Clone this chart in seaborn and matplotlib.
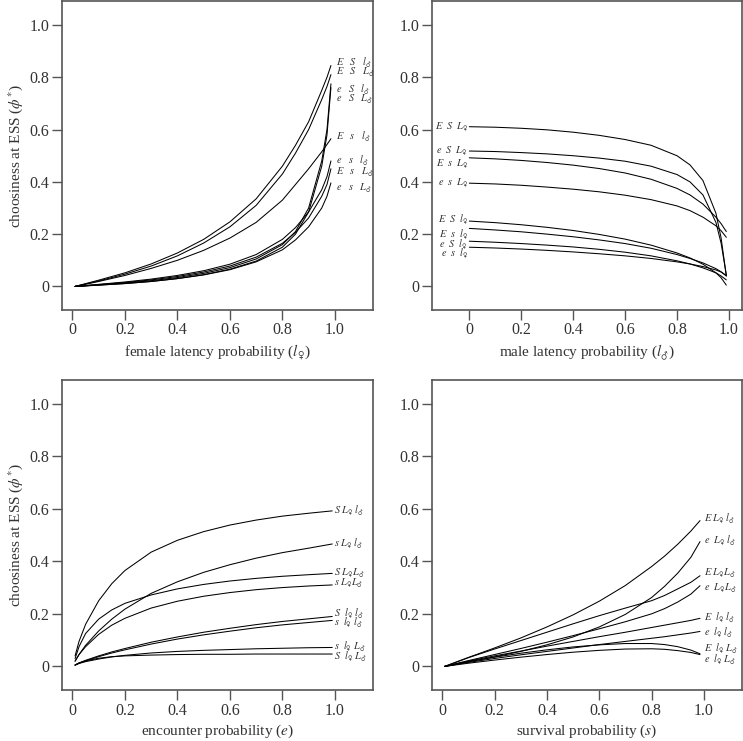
"""
ESS choosiness against four probabilities (four panels).
"""

import matplotlib
matplotlib.use("Agg")
import matplotlib.pyplot as plt
import pandas as pd
import seaborn as sns
from matplotlib.ticker import FuncFormatter

# --- top-left: female latency probability ---
fl_x = [0.01, 0.1, 0.2, 0.3, 0.4, 0.5, 0.6, 0.7, 0.8, 0.85, 0.9, 0.95, 0.97, 0.985]
fl_labels = [r"$E\ \ \ S\ \ \ l_{♂}$", r"$E\ \ \ S\ \ \ L_{♂}$", r"$e\ \ \ S\ \ \ l_{♂}$", r"$e\ \ \ S\ \ \ L_{♂}$",
             r"$E\ \ \ s\ \ \ l_{♂}$", r"$e\ \ \ s\ \ \ l_{♂}$", r"$E\ \ \ s\ \ \ L_{♂}$", r"$e\ \ \ s\ \ \ L_{♂}$"]
fl_values = [
    [0, 0.024, 0.052, 0.086, 0.128, 0.18, 0.247, 0.335, 0.46, 0.54, 0.63, 0.75, 0.80, 0.845],
    [0, 0.021, 0.047, 0.078, 0.117, 0.166, 0.228, 0.31, 0.43, 0.51, 0.6, 0.715, 0.765, 0.81],
    [0, 0.006, 0.013, 0.022, 0.034, 0.05, 0.072, 0.105, 0.16, 0.21, 0.3, 0.48, 0.6, 0.775],
    [0, 0.005, 0.011, 0.019, 0.03, 0.045, 0.066, 0.097, 0.15, 0.2, 0.285, 0.46, 0.58, 0.76],
    [0, 0.019, 0.042, 0.069, 0.1, 0.138, 0.185, 0.245, 0.33, 0.39, 0.45, 0.515, 0.543, 0.565],
    [0, 0.008, 0.017, 0.028, 0.042, 0.06, 0.085, 0.122, 0.18, 0.225, 0.285, 0.37, 0.42, 0.48],
    [0, 0.007, 0.015, 0.025, 0.038, 0.055, 0.078, 0.112, 0.165, 0.207, 0.262, 0.345, 0.39, 0.45],
    [0, 0.005, 0.011, 0.019, 0.03, 0.044, 0.064, 0.094, 0.14, 0.178, 0.228, 0.3, 0.345, 0.396],
]
fl_label_y = [0.858, 0.82, 0.754, 0.716, 0.572, 0.483, 0.438, 0.376]

# --- top-right: male latency probability ---
ml_x = [0.0, 0.1, 0.2, 0.3, 0.4, 0.5, 0.6, 0.7, 0.8, 0.85, 0.9, 0.95, 0.97, 0.99]
ml_labels = [r"$E\ \ S\ \ L_{♀}$", r"$e\ \ S\ \ L_{♀}$", r"$E\ \ s\ \ L_{♀}$", r"$e\ \ s\ \ L_{♀}$",
             r"$E\ \ S\ \ l_{♀}$", r"$E\ \ s\ \ l_{♀}$", r"$e\ \ S\ \ l_{♀}$", r"$e\ \ s\ \ l_{♀}$"]
ml_values = [
    [0.611, 0.609, 0.605, 0.599, 0.59, 0.578, 0.562, 0.54, 0.5, 0.465, 0.405, 0.28, 0.185, 0.04],
    [0.518, 0.516, 0.512, 0.507, 0.5, 0.491, 0.479, 0.46, 0.428, 0.4, 0.35, 0.245, 0.165, 0.045],
    [0.492, 0.488, 0.482, 0.474, 0.464, 0.451, 0.434, 0.41, 0.375, 0.35, 0.315, 0.265, 0.24, 0.21],
    [0.395, 0.392, 0.387, 0.38, 0.372, 0.362, 0.349, 0.332, 0.308, 0.29, 0.265, 0.232, 0.213, 0.188],
    [0.25, 0.244, 0.236, 0.226, 0.214, 0.199, 0.181, 0.158, 0.128, 0.109, 0.085, 0.052, 0.033, 0.005],
    [0.222, 0.216, 0.209, 0.2, 0.19, 0.178, 0.164, 0.146, 0.122, 0.107, 0.09, 0.068, 0.056, 0.04],
    [0.173, 0.169, 0.164, 0.158, 0.151, 0.142, 0.131, 0.117, 0.098, 0.086, 0.071, 0.052, 0.04, 0.025],
    [0.15, 0.147, 0.143, 0.138, 0.132, 0.125, 0.117, 0.107, 0.094, 0.086, 0.076, 0.063, 0.055, 0.042],
]
ml_label_y = [0.611, 0.521, 0.47, 0.396, 0.256, 0.2, 0.163, 0.127]

# --- bottom-left: encounter probability ---
en_x = [0.01, 0.025, 0.05, 0.1, 0.15, 0.2, 0.3, 0.4, 0.5, 0.6, 0.7, 0.8, 0.9, 0.99]
en_labels = [r"$S\ L_{♀}\ l_{♂}$", r"$s\ L_{♀}\ l_{♂}$", r"$S\ L_{♀}L_{♂}$", r"$s\ L_{♀}L_{♂}$",
             r"$S\ \ l_{♀}\ l_{♂}$", r"$s\ \ l_{♀}\ l_{♂}$", r"$s\ \ l_{♀}\ L_{♂}$", r"$S\ \ l_{♀}\ L_{♂}$"]
en_values = [
    [0.04, 0.095, 0.16, 0.25, 0.315, 0.365, 0.435, 0.48, 0.513, 0.538, 0.557, 0.572, 0.583, 0.592],
    [0.02, 0.045, 0.08, 0.135, 0.18, 0.218, 0.278, 0.322, 0.358, 0.387, 0.412, 0.433, 0.45, 0.466],
    [0.03, 0.075, 0.125, 0.18, 0.215, 0.24, 0.272, 0.295, 0.312, 0.325, 0.335, 0.343, 0.349, 0.354],
    [0.02, 0.045, 0.075, 0.122, 0.157, 0.183, 0.222, 0.248, 0.267, 0.281, 0.292, 0.3, 0.306, 0.31],
    [0.005, 0.013, 0.023, 0.04, 0.055, 0.068, 0.092, 0.112, 0.13, 0.145, 0.159, 0.171, 0.181, 0.19],
    [0.005, 0.012, 0.021, 0.037, 0.051, 0.063, 0.085, 0.104, 0.12, 0.134, 0.147, 0.158, 0.167, 0.175],
    [0.005, 0.011, 0.018, 0.028, 0.036, 0.042, 0.051, 0.057, 0.061, 0.064, 0.067, 0.069, 0.071, 0.072],
    [0.005, 0.013, 0.021, 0.031, 0.037, 0.04, 0.043, 0.045, 0.046, 0.046, 0.047, 0.047, 0.047, 0.047],
]
en_label_y = [0.59, 0.466, 0.355, 0.314, 0.198, 0.165, 0.073, 0.037]

# --- bottom-right: survival probability ---
sv_x = [0.01, 0.1, 0.2, 0.3, 0.4, 0.5, 0.6, 0.7, 0.8, 0.85, 0.9, 0.95, 0.985]
sv_labels = [r"$E\ L_{♀}\ l_{♂}$", r"$e\ \ L_{♀}\ l_{♂}$", r"$E\ L_{♀}L_{♂}$", r"$e\ \ L_{♀}L_{♂}$",
             r"$E\ \ l_{♀}\ l_{♂}$", r"$e\ \ l_{♀}\ l_{♂}$", r"$E\ \ l_{♀}\ L_{♂}$", r"$e\ \ l_{♀}\ L_{♂}$"]
sv_values = [
    [0, 0.034, 0.07, 0.108, 0.15, 0.196, 0.248, 0.308, 0.38, 0.42, 0.465, 0.515, 0.555],
    [0, 0.017, 0.036, 0.057, 0.082, 0.112, 0.15, 0.198, 0.262, 0.305, 0.355, 0.415, 0.475],
    [0, 0.033, 0.066, 0.098, 0.13, 0.162, 0.193, 0.222, 0.25, 0.27, 0.295, 0.32, 0.345],
    [0, 0.022, 0.045, 0.068, 0.092, 0.117, 0.143, 0.17, 0.2, 0.22, 0.245, 0.275, 0.307],
    [0, 0.02, 0.04, 0.058, 0.077, 0.095, 0.113, 0.13, 0.148, 0.157, 0.166, 0.175, 0.183],
    [0, 0.015, 0.03, 0.044, 0.057, 0.07, 0.083, 0.095, 0.107, 0.113, 0.12, 0.127, 0.133],
    [0, 0.018, 0.035, 0.05, 0.063, 0.074, 0.082, 0.087, 0.087, 0.083, 0.075, 0.062, 0.048],
    [0, 0.012, 0.024, 0.035, 0.045, 0.054, 0.061, 0.066, 0.067, 0.065, 0.06, 0.053, 0.045],
]
sv_label_y = [0.562, 0.479, 0.352, 0.297, 0.186, 0.127, 0.067, 0.024]

TICKS = [0, 0.2, 0.4, 0.6, 0.8, 1.0]
TEXT_C = "#333333"
SPINE_C = "#555555"


def long_frame(xs, values):
    rows = []
    for i, ys in enumerate(values):
        for x, y in zip(xs, ys):
            rows.append({"x": x, "phi": y, "curve": i})
    return pd.DataFrame(rows)


def draw_panel(ax, xs, values, labels, label_y, label_x, ha, xlim, xlabel, ylabel=None):
    df = long_frame(xs, values)
    sns.lineplot(data=df, x="x", y="phi", units="curve", estimator=None, sort=False,
                 color="black", linewidth=0.75, ax=ax, legend=False)
    for lab, ly in zip(labels, label_y):
        ax.text(label_x, ly, lab, ha=ha, va="center", fontsize=7.5, color=TEXT_C)

    ax.set_xlim(*xlim)
    ax.set_ylim(-0.09, 1.09)
    ax.set_xticks(TICKS)
    ax.set_yticks(TICKS)
    fmt = FuncFormatter(lambda v, p: "0" if abs(v) < 1e-9 else f"{v:.1f}")
    ax.xaxis.set_major_formatter(fmt)
    ax.yaxis.set_major_formatter(fmt)
    ax.tick_params(direction="out", length=7, width=1.0, color=SPINE_C,
                   labelsize=11.5, labelcolor=TEXT_C, pad=2,
                   top=False, right=False)
    for sp in ax.spines.values():
        sp.set_visible(True)
        sp.set_color(SPINE_C)
        sp.set_linewidth(1.2)
    ax.set_xlabel(xlabel, fontsize=11, color=TEXT_C, labelpad=3)
    ax.set_ylabel(ylabel if ylabel else "", fontsize=11, color=TEXT_C, labelpad=3)
    ax.grid(False)


sns.set_theme(style="ticks")
plt.rcParams["font.family"] = ["Liberation Serif", "DejaVu Serif"]
plt.rcParams["mathtext.fontset"] = "stix"

fig = plt.figure(figsize=(7.43, 7.41), dpi=100)
ax_tl = fig.add_axes([0.0834, 0.5817, 0.4185, 0.4163])
ax_tr = fig.add_axes([0.581, 0.5817, 0.4175, 0.4163])
ax_bl = fig.add_axes([0.0834, 0.0688, 0.4185, 0.4183])
ax_br = fig.add_axes([0.581, 0.0688, 0.4175, 0.4183])

ylab = r"choosiness at ESS ($\phi^{*}$)"
draw_panel(ax_tl, fl_x, fl_values, fl_labels, fl_label_y, 1.003, "left", (-0.04, 1.145),
           r"female latency probability ($l_{♀}$)", ylab)
draw_panel(ax_tr, ml_x, ml_values, ml_labels, ml_label_y, -0.005, "right", (-0.145, 1.05),
           r"male latency probability ($l_{♂}$)")
draw_panel(ax_bl, en_x, en_values, en_labels, en_label_y, 0.996, "left", (-0.04, 1.145),
           r"encounter probability ($e$)", ylab)
draw_panel(ax_br, sv_x, sv_values, sv_labels, sv_label_y, 1.0, "left", (-0.04, 1.145),
           r"survival probability ($s$)")

fig.savefig("out.png", dpi=100)
plt.close(fig)
